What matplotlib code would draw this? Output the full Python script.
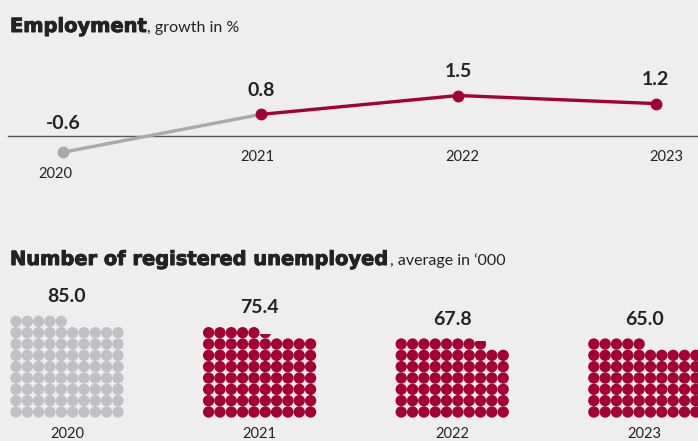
import matplotlib
matplotlib.use("Agg")
import matplotlib.pyplot as plt
import matplotlib.patheffects as pe
from matplotlib.patches import Circle, Rectangle

# ---- data ----
years = [2020, 2021, 2022, 2023]
year_labels = ["2020", "2021", "2022", "2023"]
growth = [-0.6, 0.8, 1.5, 1.2]
unemployed = [85.0, 75.4, 67.8, 65.0]

# ---- style ----
W, H = 698, 441
BG = "#eeeeee"
RED = "#a50034"
GRAY_LINE = "#a9a9ab"
GRAY_DOT = "#c1c1c4"
TXT = "#222222"
FONT = "Lato"
plt.rcParams["font.family"] = [FONT, "DejaVu Sans"]

fig = plt.figure(figsize=(W / 100, H / 100), dpi=100, facecolor=BG)


def fpos(x, y):
    return x / W, 1 - y / H


def title(x, y, bold, rest, bsize, rsize):
    renderer = fig.canvas.get_renderer()
    t = fig.text(*fpos(x, y), bold, fontsize=bsize, fontweight="bold",
                 family="DejaVu Sans", color=TXT, va="baseline", ha="left",
                 path_effects=[pe.withStroke(linewidth=0.7, foreground=TXT)])
    bb = t.get_window_extent(renderer)
    fig.text(bb.x1 / W, 1 - y / H, rest, fontsize=rsize, color=TXT,
             va="baseline", ha="left")


# ---------------- top: employment line ----------------
px_per_year = 197.5
x0_px = 63.3
zero_px = 136
px_per_unit = 27.0
top_px, bot_px = 40, 200
ax1 = fig.add_axes([0, 1 - bot_px / H, 1, (bot_px - top_px) / H])
ax1.set_facecolor(BG)
ax1.axis("off")
ax1.set_xlim(years[0] - x0_px / px_per_year, years[0] + (W - x0_px) / px_per_year)
ax1.set_ylim(-(bot_px - zero_px) / px_per_unit, (zero_px - top_px) / px_per_unit)

ax1.axhline(0, xmin=8 / W, xmax=1, color="#555555", lw=1.0, zorder=1)

# gray segment (first year) and red rest
ax1.plot(years[:2], growth[:2], color=GRAY_LINE, lw=2.4, solid_capstyle="round", zorder=2)
ax1.plot(years[1:], growth[1:], color=RED, lw=2.4, solid_capstyle="round", zorder=3)
ax1.plot(years[:1], growth[:1], "o", color=GRAY_LINE, ms=7.5, zorder=4)
ax1.plot(years[1:], growth[1:], "o", color=RED, ms=7.5, zorder=4)

year_dx = [-8, -3, 4, 11]
for i, (yr, v, lab) in enumerate(zip(years, growth, year_labels)):
    if v >= 0:
        ax1.annotate(f"{v:.1f}", (yr, v), xytext=(0, 17), textcoords="offset points",
                     ha="center", va="center", fontsize=14, fontweight="bold", color=TXT)
        ax1.annotate(lab, (yr, 0), xytext=(year_dx[i] * 0.72, -15), textcoords="offset points",
                     ha="center", va="center", fontsize=10.5, color=TXT)
    else:
        ax1.annotate(f"{v:.1f}", (yr, 0), xytext=(0, 9), textcoords="offset points",
                     ha="center", va="center", fontsize=14, fontweight="bold", color=TXT)
        ax1.annotate(lab, (yr, v), xytext=(year_dx[i] * 0.72, -16), textcoords="offset points",
                     ha="center", va="center", fontsize=10.5, color=TXT)

# ---------------- bottom: dot grids ----------------
pitch = 11.33
first_col_px = 16
bottom_row_px = 412
b_top, b_bot = 270, 441
ax2 = fig.add_axes([0, 1 - b_bot / H, 1, (b_bot - b_top) / H])
ax2.set_facecolor(BG)
ax2.axis("off")
ax2.set_xlim(-first_col_px / pitch, (W - first_col_px) / pitch)
ax2.set_ylim(-(b_bot - bottom_row_px) / pitch, (bottom_row_px - b_top) / pitch)

ncols = 10
group_step = 17
r = 0.5
for g, v in enumerate(unemployed):
    color = GRAY_DOT if g == 0 else RED
    full = int(round(v * 10)) // 10
    frac = round(v - full, 3)
    gx = g * group_step
    for k in range(full):
        row, col = divmod(k, ncols)
        ax2.add_patch(Circle((gx + col, row), r, color=color, lw=0))
    nrows = (full + (1 if frac > 0 else 0) + ncols - 1) // ncols
    if frac > 0:
        row, col = divmod(full, ncols)
        c = Circle((gx + col, row), r, color=color, lw=0)
        ax2.add_patch(c)
        clip = Rectangle((gx + col - r, row - r), 2 * r, 2 * r * frac,
                         transform=ax2.transData, visible=False)
        ax2.add_patch(clip)
        c.set_clip_path(clip)
    top_row = nrows - 1
    cx = gx + (ncols - 1) / 2
    ax2.text(cx, top_row + 2.2, f"{v:.1f}", ha="center", va="center",
             fontsize=14, fontweight="bold", color=TXT)
    ax2.text(cx, -1.95, year_labels[g], ha="center", va="center",
             fontsize=10.5, color=TXT)

# ---------------- titles ----------------
title(10, 32, "Employment", ", growth in %", 14, 11.5)
title(10, 265, "Number of registered unemployed", ", average in \u2018000", 14, 11.5)

fig.savefig("out.png", dpi=100, facecolor=BG)
